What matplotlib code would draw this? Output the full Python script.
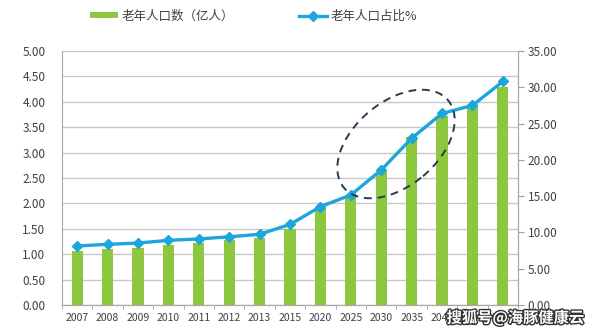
import matplotlib.pyplot as plt
import matplotlib.patheffects as pe
from matplotlib.patches import Ellipse

plt.rcParams['font.family'] = ['Noto Sans CJK SC', 'DejaVu Sans']

years = ['2007', '2008', '2009', '2010', '2011', '2012', '2013', '2015',
         '2020', '2025', '2030', '2035', '2040', '2045', '2050']
elderly_pop = [1.06, 1.10, 1.13, 1.19, 1.23, 1.27, 1.31, 1.50,
               1.90, 2.13, 2.62, 3.31, 3.72, 3.94, 4.30]
elderly_pct = [8.13, 8.36, 8.54, 8.91, 9.10, 9.40, 9.74, 11.10,
               13.55, 15.16, 18.60, 22.97, 26.40, 27.50, 30.80]

green = '#8DC63F'
blue = '#1CA6DC'
grey_txt = '#404040'

fig = plt.figure(figsize=(5.99, 3.33), dpi=100)
ax = fig.add_axes([0.1035, 0.0841, 0.7613, 0.7627])
ax2 = ax.twinx()

x = range(len(years))
bars = ax.bar(x, elderly_pop, width=0.37, color=green, zorder=2, label='老年人口数（亿人）')
ax.set_xlim(-0.5, len(years) - 0.5)
ax.set_ylim(0, 5)
ax.set_yticks([i * 0.5 for i in range(11)])
ax.set_yticklabels(['%.2f' % (i * 0.5) for i in range(11)])
ax.yaxis.grid(True, color='#C8C8C8', linewidth=1)
ax.set_axisbelow(True)
ax.set_xticks(list(x))
ax.set_xticklabels(years)
ax.set_xticks([i + 0.5 for i in range(-1, len(years))], minor=True)
ax.tick_params(axis='x', which='major', length=0, labelsize=7.5, colors=grey_txt, pad=6)
ax.tick_params(axis='x', which='minor', length=3, color='#A0A0A0')
ax.tick_params(axis='y', length=0, labelsize=8.5, colors=grey_txt, pad=12)

line, = ax2.plot(x, elderly_pct, color=blue, linewidth=2.4, marker='D', markersize=5,
                 zorder=3, label='老年人口占比%')
ax2.set_ylim(0, 35)
ax2.set_yticks(range(0, 36, 5))
ax2.set_yticklabels(['%.2f' % v for v in range(0, 36, 5)])
ax2.tick_params(axis='y', length=4, direction='out', color='#A0A0A0', labelsize=8.5,
                colors=grey_txt, pad=3)

for a in (ax, ax2):
    a.spines['top'].set_visible(False)
    for s in ('left', 'right', 'bottom'):
        a.spines[s].set_color('#A8A8A8')
ax2.spines['left'].set_visible(False)

ax.legend([bars, line], ['老年人口数（亿人）', '老年人口占比%'], ncol=2, frameon=False,
          loc='center', bbox_to_anchor=(0.42, 1.138), fontsize=9, handlelength=2.2,
          handleheight=0.45, columnspacing=5.2, labelcolor=grey_txt, handletextpad=0.3)

ell = Ellipse((3.96, 1.89), 1.36, 0.84, angle=40, transform=fig.dpi_scale_trans,
              fill=False, edgecolor='#2B3A4A', linestyle=(0, (4, 3)), linewidth=1.4)
fig.patches.append(ell)

fig.text(0.975, 0.045, '搜狐号@海豚健康云', ha='right', va='center', fontsize=11,
         fontweight='bold', color='white', zorder=10,
         path_effects=[pe.withStroke(linewidth=2, foreground='#333333')])

fig.savefig('out.png', dpi=100)
